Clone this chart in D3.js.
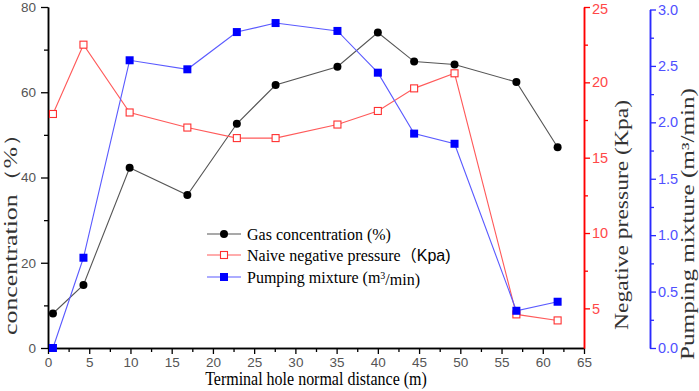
<!DOCTYPE html>
<html><head><meta charset="utf-8">
<script src="https://cdn.jsdelivr.net/npm/d3@7"></script>
<style>body{margin:0;background:#fff;} svg{display:block;}</style>
</head><body>
<svg id="chart" width="699" height="391"></svg>
<script>
// ---- data ----
const distance = [0.6, 4.3, 9.9, 16.9, 22.9, 27.6, 35.1, 40.0, 44.4, 49.3, 56.8, 61.8];
const gasConcentration = [8.1, 14.8, 42.3, 35.9, 52.6, 61.7, 66.0, 74.0, 67.2, 66.5, 62.4, 47.1];
const negativePressure = [17.9, 22.5, 18.0, 17.0, 16.3, 16.3, 17.2, 18.1, 19.6, 20.6, 4.6, 4.2];
const pumpingMixture = [0.0, 0.80, 2.55, 2.47, 2.80, 2.88, 2.81, 2.44, 1.90, 1.81, 0.33, 0.41];

const xTicks = [0,5,10,15,20,25,30,35,40,45,50,55,60,65];
const xMinorTicks = [2.5,7.5,12.5,17.5,22.5,27.5,32.5,37.5,42.5,47.5,52.5,57.5,62.5];
const leftTicks = [0,20,40,60,80];
const leftMinorTicks = [10,30,50,70];
const redTicks = [5,10,15,20,25];
const redMinorTicks = [7.5,12.5,17.5,22.5];
const blueTicks = [0,0.5,1.0,1.5,2.0,2.5,3.0];
const blueMinorTicks = [0.25,0.75,1.25,1.75,2.25,2.75];

const xTitle = "Terminal hole normal distance (m)";
const leftTitle = "concentration（%）";
const redTitle = "Negative pressure (Kpa)";
const blueTitle = "Pumping mixture (m³/min)";

// ---- layout ----
const svg = d3.select("#chart");
const x = d3.scaleLinear().domain([0,65]).range([48,584]);
const yL = d3.scaleLinear().domain([0,80]).range([348,7]);
const yR = d3.scaleLinear().domain([2.37,25]).range([348,7]);
const yB = d3.scaleLinear().domain([0,3]).range([348,9.5]);

const tickFont = "'Liberation Sans', Arial, sans-serif";
const serif = "'Liberation Serif', 'Times New Roman', serif";

function styleAxis(g, color, labelColor, fs){
  g.select(".domain").attr("stroke", color).attr("stroke-width", 1.5);
  g.selectAll(".tick line").attr("stroke", color).attr("stroke-width", 1.3);
  g.selectAll(".tick text").attr("fill", labelColor).style("font-family", tickFont).style("font-size", fs+"px");
}

// bottom axis
const gx = svg.append("g").attr("transform","translate(0,348)")
  .call(d3.axisBottom(x).tickValues(xTicks).tickSize(6).tickPadding(3).tickSizeOuter(0));
styleAxis(gx, "#000", "#555", 13.5);
const gxm = svg.append("g").attr("transform","translate(0,348)")
  .call(d3.axisBottom(x).tickValues(xMinorTicks).tickSize(4).tickFormat("").tickSizeOuter(0));
styleAxis(gxm, "#000", "#555", 13.5);

// left axis
const gl = svg.append("g").attr("transform","translate(48,0)")
  .call(d3.axisLeft(yL).tickValues(leftTicks).tickSize(7).tickPadding(5).tickSizeOuter(0));
styleAxis(gl, "#000", "#555", 13.5);
const glm = svg.append("g").attr("transform","translate(48,0)")
  .call(d3.axisLeft(yL).tickValues(leftMinorTicks).tickSize(4).tickFormat("").tickSizeOuter(0));
styleAxis(glm, "#000", "#555", 13.5);

// red axis
const gr = svg.append("g").attr("transform","translate(584,0)")
  .call(d3.axisRight(yR).tickValues(redTicks).tickSize(6).tickPadding(2).tickSizeOuter(0));
styleAxis(gr, "#ff0000", "#ff4848", 14.5);
gr.selectAll(".tick text").filter(d=>d===25).attr("dy","0.45em");
const grm = svg.append("g").attr("transform","translate(584,0)")
  .call(d3.axisRight(yR).tickValues(redMinorTicks).tickSize(4).tickFormat("").tickSizeOuter(0));
styleAxis(grm, "#ff0000", "#ff4848", 14.5);

// blue axis
const gb = svg.append("g").attr("transform","translate(650,0)")
  .call(d3.axisRight(yB).tickValues(blueTicks).tickSize(6).tickPadding(2).tickFormat(d3.format(".1f")).tickSizeOuter(0));
styleAxis(gb, "#2a2aff", "#5050ff", 14.5);
const gbm = svg.append("g").attr("transform","translate(650,0)")
  .call(d3.axisRight(yB).tickValues(blueMinorTicks).tickSize(4).tickFormat("").tickSizeOuter(0));
styleAxis(gbm, "#2a2aff", "#5050ff", 14.5);

// titles
svg.append("text").attr("transform","translate(316,385) scale(1,1.12)").attr("text-anchor","middle")
  .style("font-family",serif).style("font-size","16px").attr("fill","#000").text(xTitle);
svg.append("text").attr("transform","translate(17,335) rotate(-90)")
  .attr("textLength",214).attr("lengthAdjust","spacingAndGlyphs")
  .style("font-family",serif).style("font-size","18px").attr("fill","#333").text(leftTitle);
svg.append("text").attr("transform","translate(628,330) rotate(-90)")
  .attr("textLength",230).attr("lengthAdjust","spacingAndGlyphs")
  .style("font-family",serif).style("font-size","18px").attr("fill","#333").text(redTitle);
svg.append("text").attr("transform","translate(694,360) rotate(-90)")
  .attr("textLength",272).attr("lengthAdjust","spacingAndGlyphs")
  .style("font-family",serif).style("font-size","18px").attr("fill","#333").text(blueTitle);

// series
const idx = d3.range(distance.length);
const gasLine = d3.line().x(i=>x(distance[i])).y(i=>yL(gasConcentration[i]));
const redLine = d3.line().x(i=>x(distance[i])).y(i=>yR(negativePressure[i]));
const blueLine = d3.line().x(i=>x(distance[i])).y(i=>yB(pumpingMixture[i]));

svg.append("path").attr("d",gasLine(idx)).attr("fill","none").attr("stroke","#555").attr("stroke-width",1.1);
svg.selectAll(".gas").data(idx).enter().append("circle")
  .attr("cx",i=>x(distance[i])).attr("cy",i=>yL(gasConcentration[i])).attr("r",4).attr("fill","#000");

svg.append("path").attr("d",redLine(idx)).attr("fill","none").attr("stroke","#ff5a5a").attr("stroke-width",1.1);
svg.selectAll(".red").data(idx).enter().append("rect")
  .attr("x",i=>x(distance[i])-3.5).attr("y",i=>yR(negativePressure[i])-3.5)
  .attr("width",7).attr("height",7).attr("fill","#fff").attr("stroke","#ff3030").attr("stroke-width",1.1);

svg.append("path").attr("d",blueLine(idx)).attr("fill","none").attr("stroke","#5a5aff").attr("stroke-width",1.1);
svg.selectAll(".blue").data(idx).enter().append("rect")
  .attr("x",i=>x(distance[i])-4).attr("y",i=>yB(pumpingMixture[i])-4)
  .attr("width",8).attr("height",8).attr("fill","#0000ff");

// legend
const legendRows = [
  {y:234, color:"#555", marker:"circle", mfill:"#000", mstroke:"none"},
  {y:255, color:"#ff5a5a", marker:"open", mfill:"#fff", mstroke:"#ff3030"},
  {y:277, color:"#5a5aff", marker:"square", mfill:"#0000ff", mstroke:"none"}
];
legendRows.forEach((r,k)=>{
  svg.append("line").attr("x1",207).attr("x2",241).attr("y1",r.y).attr("y2",r.y).attr("stroke",r.color).attr("stroke-width",1.1);
  if(r.marker==="circle"){
    svg.append("circle").attr("cx",224).attr("cy",r.y).attr("r",4).attr("fill",r.mfill);
  } else if(r.marker==="open"){
    svg.append("rect").attr("x",220.5).attr("y",r.y-3.5).attr("width",7).attr("height",7).attr("fill","#fff").attr("stroke",r.mstroke).attr("stroke-width",1.1);
  } else {
    svg.append("rect").attr("x",220).attr("y",r.y-4).attr("width",8).attr("height",8).attr("fill",r.mfill);
  }
});
const lt1 = svg.append("text").attr("x",247).attr("y",234).attr("dy","0.35em").style("font-family",serif).style("font-size","16px").text("Gas concentration (%)");
const lt2 = svg.append("text").attr("x",247).attr("y",255).attr("dy","0.35em").style("font-family",serif).style("font-size","16px");
lt2.append("tspan").text("Naive negative pressure");
lt2.append("tspan").style("font-family","'Noto Sans CJK SC', sans-serif").text("（");
lt2.append("tspan").style("font-family",tickFont).style("font-size","16px").text("Kpa)");
const lt3 = svg.append("text").attr("x",247).attr("y",277).attr("dy","0.35em").style("font-family",serif).style("font-size","16px");
lt3.append("tspan").text("Pumping mixture (m");
lt3.append("tspan").attr("dy","-0.4em").style("font-size","10px").text("3");
lt3.append("tspan").attr("dy","0.4em").text("/min)");
</script>
</body></html>
